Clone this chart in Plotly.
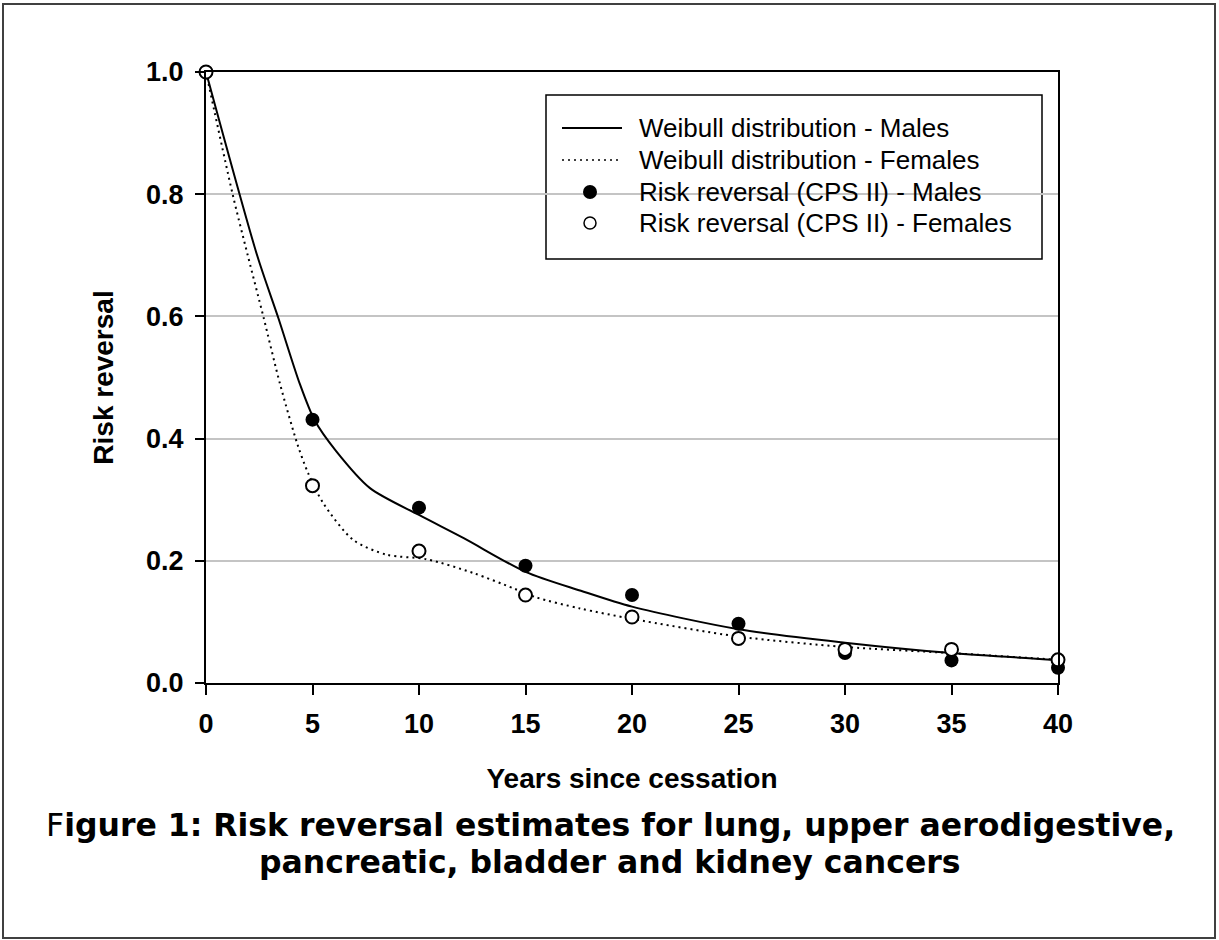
import plotly.graph_objects as go

# Observed risk reversal (CPS II) by years since cessation
years = [0, 5, 10, 15, 20, 25, 30, 35, 40]
males_obs = [1.0, 0.431, 0.287, 0.192, 0.144, 0.097, 0.049, 0.037, 0.025]
females_obs = [1.0, 0.323, 0.216, 0.144, 0.108, 0.073, 0.055, 0.055, 0.038]

# Fitted Weibull curves (knots along each fitted curve)
males_fit_x = [0, 2.4, 3.4, 4.4, 5.1, 6.1, 7.7, 10, 12.1, 15, 17.6, 20, 25, 30, 35, 40]
males_fit_y = [1.0, 0.70, 0.597, 0.49, 0.43, 0.38, 0.319, 0.275, 0.237, 0.182, 0.151, 0.125, 0.088, 0.066, 0.049, 0.0376]
females_fit_x = [0, 1.25, 1.96, 2.69, 3.47, 4.3, 4.8, 5.51, 6.92, 8.48, 10.36, 12.55, 14.43, 15.52, 17.56, 20, 25, 30, 35, 40]
females_fit_y = [1.0, 0.80, 0.70, 0.60, 0.49, 0.39, 0.343, 0.294, 0.234, 0.210, 0.2025, 0.18, 0.155, 0.140, 0.122, 0.105, 0.076, 0.059, 0.049, 0.038]

x_ticks = [0, 5, 10, 15, 20, 25, 30, 35, 40]
y_ticks = [0.0, 0.2, 0.4, 0.6, 0.8, 1.0]

series_names = [
    "Weibull distribution - Males",
    "Weibull distribution - Females",
    "Risk reversal (CPS II) - Males",
    "Risk reversal (CPS II) - Females",
]

W, H = 1219, 940
L, R, T, B = 206, 1058, 72, 683

def px_x(p):
    return (p - L) / (R - L)

def px_y(p):
    return (B - p) / (B - T)

ARIAL = "Liberation Sans"
VERDANA = "DejaVu Sans"

male_line = dict(color="black", width=2)
female_line = dict(color="black", width=2, dash="2px,4px")

fig = go.Figure()
fig.add_trace(go.Scatter(
    x=males_fit_x, y=males_fit_y, mode="lines",
    line=dict(**male_line, shape="spline", smoothing=0.8),
    name=series_names[0], cliponaxis=False, showlegend=False))
fig.add_trace(go.Scatter(
    x=females_fit_x, y=females_fit_y, mode="lines",
    line=dict(**female_line, shape="spline", smoothing=0.8),
    name=series_names[1], cliponaxis=False, showlegend=False))
fig.add_trace(go.Scatter(
    x=years, y=males_obs, mode="markers",
    marker=dict(symbol="circle", size=14, color="black", line=dict(width=0)),
    name=series_names[2], cliponaxis=False, showlegend=False))
fig.add_trace(go.Scatter(
    x=years, y=females_obs, mode="markers",
    marker=dict(symbol="circle", size=13, color="white", line=dict(width=2, color="black")),
    name=series_names[3], cliponaxis=False, showlegend=False))

# Legend box with its four entries
row_y = [128, 160, 192, 223]
shapes = [
    dict(type="rect", xref="paper", yref="paper",
         x0=px_x(546), x1=px_x(1042), y0=px_y(259), y1=px_y(95),
         line=dict(color="black", width=1.5), fillcolor="white", layer="between"),
    dict(type="line", xref="paper", yref="paper",
         x0=px_x(562), x1=px_x(622), y0=px_y(row_y[0]), y1=px_y(row_y[0]),
         line=male_line, layer="above"),
    dict(type="line", xref="paper", yref="paper",
         x0=px_x(562), x1=px_x(622), y0=px_y(row_y[1]), y1=px_y(row_y[1]),
         line=dict(color="black", width=1.5, dash="2px,4px"), layer="above"),
    dict(type="circle", xref="paper", yref="paper", xsizemode="pixel", ysizemode="pixel",
         xanchor=px_x(590), yanchor=px_y(row_y[2]), x0=-7, x1=7, y0=-7, y1=7,
         fillcolor="black", line=dict(width=0), layer="above"),
    dict(type="circle", xref="paper", yref="paper", xsizemode="pixel", ysizemode="pixel",
         xanchor=px_x(590), yanchor=px_y(row_y[3]), x0=-6, x1=6, y0=-6, y1=6,
         fillcolor="white", line=dict(width=1.5, color="black"), layer="above"),
    # outer figure border
    dict(type="rect", xref="paper", yref="paper",
         x0=px_x(3), x1=px_x(1215), y0=px_y(938), y1=px_y(4),
         line=dict(color="#404040", width=2), fillcolor="rgba(0,0,0,0)", layer="above"),
]

annotations = [
    dict(text=name, xref="paper", yref="paper", x=px_x(637), y=px_y(yy),
         xanchor="left", yanchor="middle", showarrow=False,
         font=dict(family=ARIAL, size=26, color="black"))
    for name, yy in zip(series_names, row_y)
]
annotations += [
    dict(text="F<b>igure 1: Risk reversal estimates for lung, upper aerodigestive,</b>",
         xref="paper", yref="paper", x=px_x(610), y=px_y(825),
         xanchor="center", yanchor="middle", showarrow=False,
         font=dict(family=VERDANA, size=31.5, color="black")),
    dict(text="<b>pancreatic, bladder and kidney cancers</b>",
         xref="paper", yref="paper", x=px_x(610), y=px_y(862),
         xanchor="center", yanchor="middle", showarrow=False,
         font=dict(family=VERDANA, size=31.5, color="black")),
]

fig.update_layout(
    width=W, height=H,
    margin=dict(l=L, r=W - R, t=T, b=H - B, autoexpand=False),
    paper_bgcolor="white", plot_bgcolor="white",
    showlegend=False,
    shapes=shapes, annotations=annotations,
    xaxis=dict(range=[0, 40], tickvals=x_ticks, ticktext=[str(v) for v in x_ticks],
               showgrid=False, zeroline=False,
               showline=True, linecolor="black", linewidth=2, mirror=True,
               ticks="outside", ticklen=10, tickwidth=2, tickcolor="black",
               ticklabelstandoff=6,
               tickfont=dict(family=ARIAL, size=27, color="black", weight="bold"),
               title=dict(text="Years since cessation", standoff=30,
                          font=dict(family=ARIAL, size=28, color="black", weight="bold"))),
    yaxis=dict(range=[0, 1], tickvals=y_ticks, ticktext=[f"{v:.1f}" for v in y_ticks],
               showgrid=True, gridcolor="#c4c4c4", gridwidth=2, zeroline=False,
               showline=True, linecolor="black", linewidth=2, mirror=True,
               ticks="outside", ticklen=9, tickwidth=2, tickcolor="black",
               ticklabelstandoff=6,
               tickfont=dict(family=ARIAL, size=27, color="black", weight="bold"),
               title=dict(text="Risk reversal", standoff=24,
                          font=dict(family=ARIAL, size=28, color="black", weight="bold"))),
)

fig.write_html("out.html")
